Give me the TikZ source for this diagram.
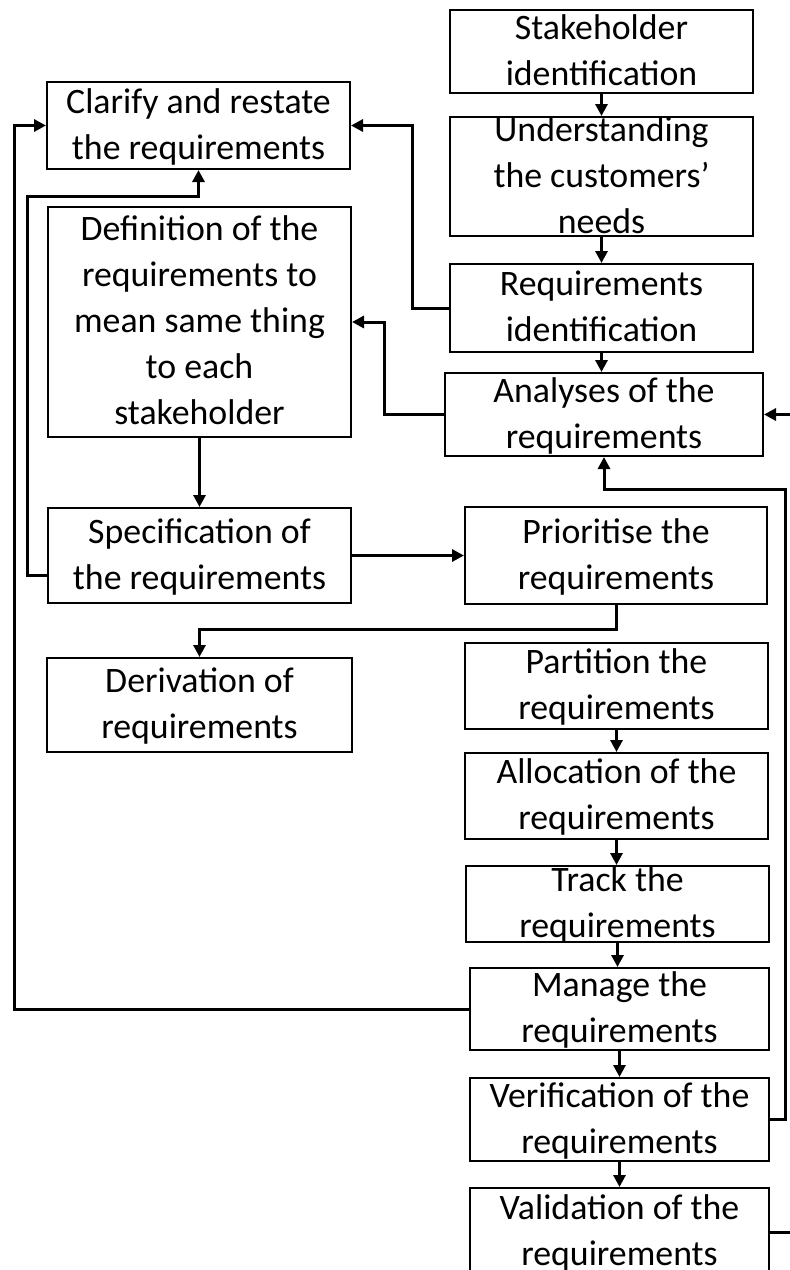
\documentclass[tikz,border=0pt]{standalone}
\usepackage{fontspec}
\setmainfont{Carlito}
\usetikzlibrary{arrows.meta,calc}
% centred stack of lines, zero height so the box keeps its own size
\newcommand{\boxlines}[1]{\lower3pt\vbox to 0pt{\vss\hbox{\begin{tabular}{@{}c@{}}#1\end{tabular}}\vss}}

\begin{document}
\begin{tikzpicture}[x=1pt,y=-1pt,
  stagebox/.style={draw, line width=2pt, inner sep=0pt,
    font=\fontsize{35.8}{46}\selectfont},
  conn/.style={line width=3pt, -{Triangle[length=12pt,width=12pt]}}]
\useasboundingbox (0,0) rectangle (790,1270);
\clip (0,0) rectangle (790,1270);

% right-hand column
\node[stagebox, minimum width=303, minimum height=83]  (stake)  at (601.5,51.5)  {\boxlines{Stakeholder\\identification}};
\node[stagebox, minimum width=303, minimum height=119] (under)  at (601.5,176.5) {\boxlines{Understanding\\the customers’\\needs}};
\node[stagebox, minimum width=303, minimum height=88]  (reqid)  at (601.5,308)   {\boxlines{Requirements\\identification}};
\node[stagebox, minimum width=318, minimum height=83]  (anal)   at (604,414.5)   {\boxlines{Analyses of the\\requirements}};
\node[stagebox, minimum width=302, minimum height=97]  (prio)   at (616,555.5)   {\boxlines{Prioritise the\\requirements}};
\node[stagebox, minimum width=303, minimum height=86]  (part)   at (616.5,686)   {\boxlines{Partition the\\requirements}};
\node[stagebox, minimum width=303, minimum height=86]  (alloc)  at (616.5,796)   {\boxlines{Allocation of the\\requirements}};
\node[stagebox, minimum width=303, minimum height=76]  (track)  at (617.5,904)   {\boxlines{Track the\\requirements}};
\node[stagebox, minimum width=299, minimum height=82]  (manage) at (619.5,1009)  {\boxlines{Manage the\\requirements}};
\node[stagebox, minimum width=299, minimum height=83]  (verif)  at (619.5,1119.5) {\boxlines{Verification of the\\requirements}};
\node[stagebox, minimum width=299, minimum height=88]  (valid)  at (619.5,1232)  {\boxlines{Validation of the\\requirements}};

% left-hand column
\node[stagebox, minimum width=303, minimum height=87]  (clar)   at (198.5,125.5) {\boxlines{Clarify and restate\\the requirements}};
\node[stagebox, minimum width=303, minimum height=230] (defn)   at (199.5,322)   {\boxlines{Definition of the\\requirements to\\mean same thing\\to each\\stakeholder}};
\node[stagebox, minimum width=303, minimum height=95]  (spec)   at (199.5,555.5) {\boxlines{Specification of\\the requirements}};
\node[stagebox, minimum width=305, minimum height=94]  (deriv)  at (199.5,705)   {\boxlines{Derivation of\\requirements}};

% main flow
\draw[conn] (stake.south) -- (under.north);
\draw[conn] (under.south) -- (reqid.north);
\draw[conn] (reqid.south) -- (reqid.south |- anal.north);
\draw[conn] (reqid.west) -- ++(-37,0) |- (clar.east);
\draw[conn] (anal.west) -- ++(-60,0) |- (defn.east);
\draw[conn] (defn.south) -- (spec.north);
\draw[conn] ($(spec.west)+(0,19.5)$) -| (27,196) -| (clar.south);
\draw[conn] (spec.east) -- (prio.west);
\draw[conn] (prio.south) -- ++(0,24) -| (deriv.north);
\draw[conn] (part.south) -- (part.south |- alloc.north);
\draw[conn] (alloc.south) -- (alloc.south |- track.north);
\draw[conn] (track.south) -- (track.south |- manage.north);
\draw[conn] (manage.south) -- (verif.north);
\draw[conn] (verif.south) -- (valid.north);

% feedback loops
\draw[conn] (manage.west) -| (14,125.5) -- (clar.west);
\draw[conn] (verif.east) -- ++(15,0) |- ($(anal.south)+(0,32)$) -- (anal.south);
\draw[conn] (valid.east) -- ++(40,0) |- (anal.east);
\end{tikzpicture}
\end{document}
